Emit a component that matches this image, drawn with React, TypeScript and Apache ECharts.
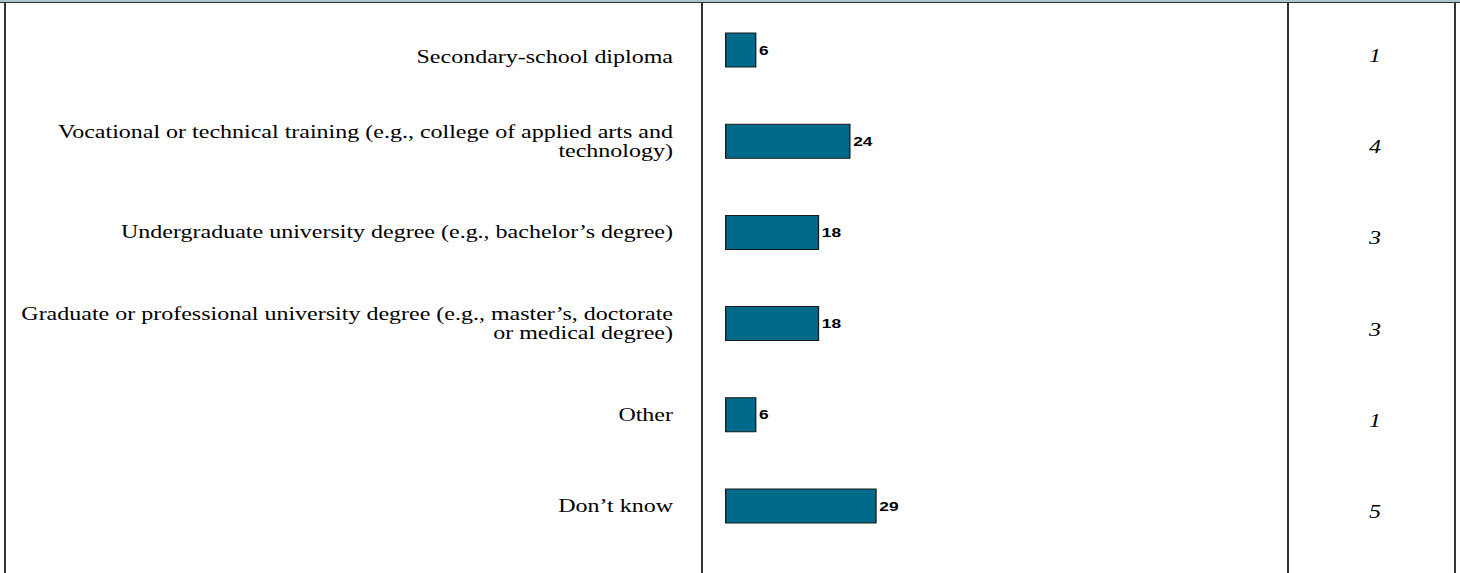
import React, { useEffect, useRef } from "react";
import * as echarts from "echarts";

const categories = [
  "Secondary-school diploma",
  "Vocational or technical training (e.g., college of applied arts and\ntechnology)",
  "Undergraduate university degree (e.g., bachelor’s degree)",
  "Graduate or professional university degree (e.g., master’s, doctorate\nor medical degree)",
  "Other",
  "Don’t know",
];
const percentValues = [6, 24, 18, 18, 6, 29];
const countValues = [1, 4, 3, 3, 1, 5];

// The reference is drawn horizontally stretched; the chart is laid out at
// INNER_W px and stretched to 1460 px with a CSS transform.
const FULL_W = 1460;
const INNER_W = 1095;
const SX = FULL_W / INNER_W;
const px = (x: number) => x / SX;

export default function App() {
  const ref = useRef<HTMLDivElement>(null);
  useEffect(() => {
    if (!ref.current) return;
    const chart = echarts.init(ref.current, undefined, { renderer: "svg" });
    const dark = "#333333";
    const gridLeft = px(725);
    const gridWidth = px(523);
    const vline = (x: number) => ({
      type: "line",
      shape: { x1: px(x), y1: 2, x2: px(x), y2: 573 },
      style: { stroke: dark, lineWidth: 1.5 },
    });
    chart.setOption({
      animation: false,
      backgroundColor: "#ffffff",
      grid: { left: gridLeft, width: gridWidth, top: 4.5, bottom: 21.5, containLabel: false },
      xAxis: { type: "value", min: 0, max: 100, show: false },
      yAxis: [
        {
          type: "category",
          data: categories.map((c, i) =>
            i === 0 ? { value: c, textStyle: { verticalAlign: "top", lineHeight: 14 } } : c
          ),
          inverse: true,
          axisLine: { show: false },
          axisTick: { show: false },
          axisLabel: {
            margin: gridLeft - px(673),
            align: "right",
            fontFamily: "Liberation Serif",
            fontSize: 18,
            lineHeight: 19,
            color: "#000",
          },
        },
        {
          type: "category",
          data: countValues.map(String),
          inverse: true,
          position: "right",
          axisLine: { show: false },
          axisTick: { show: false },
          axisLabel: {
            margin: px(1375) - (gridLeft + gridWidth),
            align: "center",
            verticalAlign: "top",
            lineHeight: 12,
            fontFamily: "Liberation Serif",
            fontStyle: "italic",
            fontSize: 18,
            color: "#000",
          },
        },
      ],
      series: [
        {
          type: "bar",
          data: percentValues,
          barWidth: 35,
          itemStyle: { color: "#006a8a", borderColor: "#1a1a1a", borderWidth: 1 },
          label: {
            show: true,
            position: "right",
            distance: 2,
            fontFamily: "Liberation Sans",
            fontWeight: "bold",
            fontSize: 13,
            color: "#000",
          },
        },
      ],
      graphic: [
        { type: "rect", shape: { x: 0, y: 0, width: INNER_W, height: 2 }, style: { fill: "#a9c5cd" } },
        { type: "line", shape: { x1: 0, y1: 2.5, x2: INNER_W, y2: 2.5 }, style: { stroke: dark, lineWidth: 1 } },
        vline(5),
        vline(702),
        vline(1288),
        vline(1455),
      ],
    });
    return () => chart.dispose();
  }, []);
  return (
    <div
      ref={ref}
      style={{
        position: "fixed",
        left: 0,
        top: 0,
        width: INNER_W,
        height: 573,
        transform: `scaleX(${SX})`,
        transformOrigin: "0 0",
      }}
    />
  );
}
